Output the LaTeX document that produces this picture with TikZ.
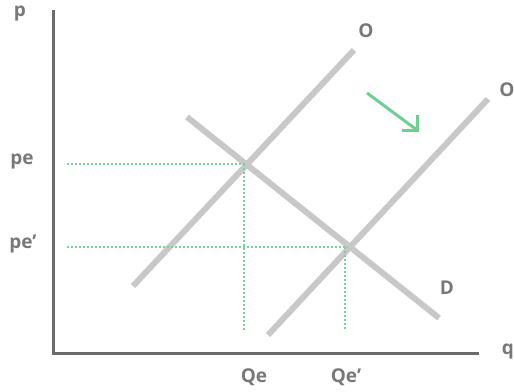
\documentclass[tikz,border=0pt]{standalone}
\usepackage{fontspec}
\setmainfont{Open Sans}
\begin{document}
\begin{tikzpicture}[x=1pt,y=-1pt,
  axisline/.style={draw=axisgray,line width=3pt},
  curve/.style={draw=curvegray,line width=6pt},
  guide/.style={draw=guidegreen,line width=2pt,dash pattern=on 2pt off 2pt},
  lab/.style={text=labgray,font=\bfseries\fontsize{19}{19}\selectfont,inner sep=0pt},
  shiftarrow/.style={draw=arrowgreen,line width=3pt}]
\definecolor{axisgray}{HTML}{6B6B6B}
\definecolor{curvegray}{HTML}{C8C8C8}
\definecolor{guidegreen}{HTML}{74D49C}
\definecolor{arrowgreen}{HTML}{6CCF94}
\definecolor{labgray}{HTML}{787878}
\useasboundingbox (0,0) rectangle (514,391);
% axes
\coordinate (top) at (53,10);
\coordinate (origin) at (53,353);
\coordinate (right) at (479,353);
\draw[axisline] (top) -- (origin) -- (right);
% curves
\coordinate (s1a) at (133,286); \coordinate (s1b) at (354,50);
\coordinate (s2a) at (268,335); \coordinate (s2b) at (488,99);
\coordinate (da) at (187,117); \coordinate (db) at (439,318);
\draw[curve] (s1a) -- (s1b);
\draw[curve] (s2a) -- (s2b);
\draw[curve] (da) -- (db);
% guides
\coordinate (e1) at (246,164);
\coordinate (e1l) at (67,164);
\coordinate (e1v) at (244,164);
\coordinate (e1b) at (244,330);
\coordinate (e2) at (348,247);
\coordinate (e2l) at (67,247);
\coordinate (e2v) at (345,247);
\coordinate (e2b) at (345,330);
\draw[guide] (e1l) -- (e1);
\draw[guide] (e1v) -- (e1b);
\draw[guide] (e2l) -- (e2);
\draw[guide] (e2v) -- (e2b);
% shift arrow
\coordinate (ast) at (367,93);
\coordinate (atip) at (417,130);
\coordinate (abl) at (402,130);
\coordinate (abu) at (417,115);
\draw[shiftarrow] (ast) -- (atip);
\draw[shiftarrow,line join=miter] (abl) -- (atip) -- (abu);
% labels
\node[lab] (p) at (20,13) {p};
\node[lab] (q) at (508,351) {q};
\node[lab] (pe) at (22,161) {pe};
\node[lab] (pe2) at (23,244) {pe’};
\node[lab] (Qe) at (254,377) {Qe};
\node[lab] (Qe2) at (346,377) {Qe’};
\node[lab] (O1) at (366,31) {O};
\node[lab] (O2) at (507,90) {O};
\node[lab] (D) at (447,288) {D};
\end{tikzpicture}
\end{document}
